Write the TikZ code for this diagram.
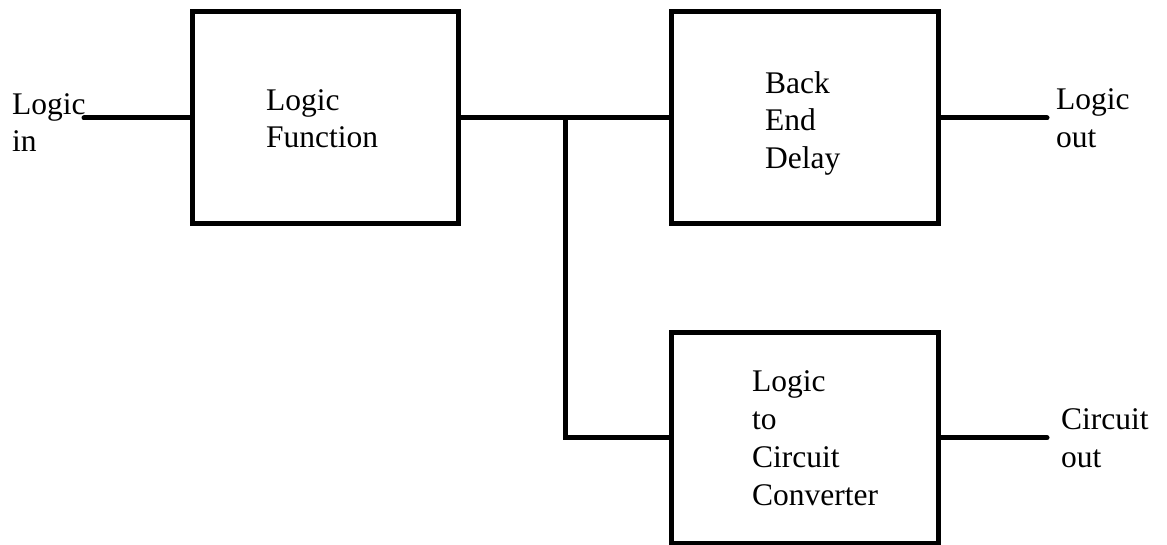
\documentclass[tikz,border=0pt]{standalone}
\usepackage{fontspec}
\setmainfont{Liberation Serif}
\begin{document}
\begin{tikzpicture}[x=1pt,y=-1pt,
  blockbox/.style={draw=black,line width=5pt,minimum width=266pt,inner sep=0pt},
  wire/.style={line width=5pt,line cap=round},
  lbl/.style={anchor=base west,inner sep=0pt,align=left,font=\fontsize{31.5}{37.7}\selectfont}]
\useasboundingbox (0,0) rectangle (1167,545);
\node[blockbox,minimum height=212pt] (lf) at (325,118) {};
\node[blockbox,minimum height=212pt,minimum width=266.5pt] (bed) at (804.75,118) {};
\node[blockbox,minimum height=210.5pt,minimum width=266.5pt] (ltc) at (804.75,437.75) {};
\node[lbl] (tlf) at (266,148) {Logic\\Function};
\node[lbl] (tbed) at (765,168.5) {Back\\End\\Delay};
\node[lbl] (tltc) at (752,505) {Logic\\to\\Circuit\\Converter};
\node[lbl] (tin) at (12,152) {Logic\\in};
\node[lbl] (tlout) at (1056,147.5) {Logic\\out};
\node[lbl] (tcout) at (1061,467) {Circuit\\out};
\coordinate (inend) at (84,118);
\coordinate (j) at (565,118);
\coordinate (lo) at (1047,118);
\coordinate (co) at (1047,437.75);
\draw[wire] (inend) -- (lf.west);
\draw[wire,line cap=butt] (lf.east) -- (bed.west);
\draw[wire,line cap=butt] (j) |- (ltc.west);
\draw[wire] (bed.east) -- (lo);
\draw[wire] (ltc.east) -- (co);
\end{tikzpicture}
\end{document}
